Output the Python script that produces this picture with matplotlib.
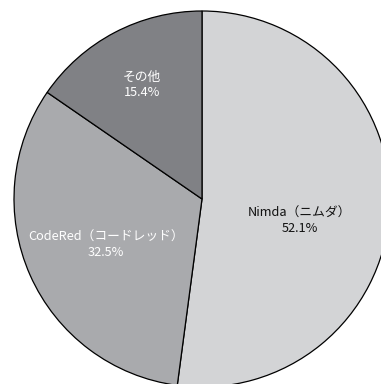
import matplotlib
matplotlib.use("Agg")
import matplotlib.pyplot as plt

plt.rcParams['font.family'] = ['Noto Sans CJK JP', 'DejaVu Sans']

categories = ["Nimda（ニムダ）", "CodeRed（コードレッド）", "その他"]
values = [52.1, 32.5, 15.4]
colors = ["#d3d4d6", "#a9aaad", "#808185"]
text_colors = ["#111111", "white", "white"]
label_pos = [(0.52, -0.115), (-0.51, -0.245), (-0.32, 0.605)]

W, H = 381, 384
fig = plt.figure(figsize=(W / 100, H / 100), dpi=100)
cx, cy, r = 202, 199, 188
ax = fig.add_axes([(cx - r) / W, (H - cy - r) / H, 2 * r / W, 2 * r / H])

ax.pie(values, colors=colors, startangle=90, counterclock=False, radius=1,
       wedgeprops=dict(edgecolor='black', linewidth=0.9))
ax.set_xlim(-1, 1)
ax.set_ylim(-1, 1)
ax.axis('off')

for cat, v, (x, y), tc in zip(categories, values, label_pos, text_colors):
    ax.text(x, y, f"{cat}\n{v}%", ha='center', va='center', fontsize=9.2,
            color=tc, linespacing=1.2)

fig.savefig("out.png", dpi=100)
